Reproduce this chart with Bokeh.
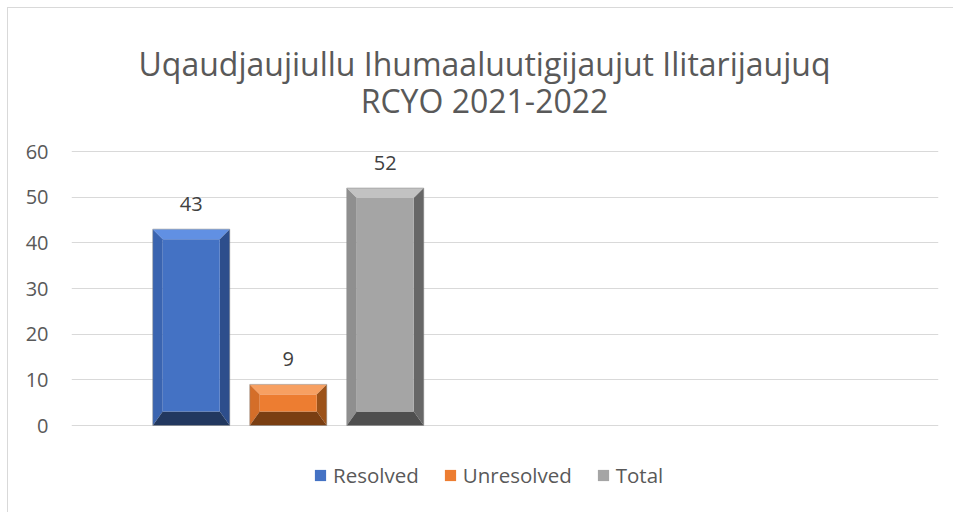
from bokeh.plotting import figure
from bokeh.models import Range1d, Label, Legend, LegendItem, ColumnDataSource
from bokeh.core.properties import value
from bokeh.embed import file_html
from bokeh.resources import INLINE

# ---- data ----
categories = ["Resolved", "Unresolved", "Total"]
counts = [43, 9, 52]
title_lines = ["Uqaudjaujiullu Ihumaaluutigijaujut Ilitarijaujuq", "RCYO 2021-2022"]
y_ticks = [0, 10, 20, 30, 40, 50, 60]

# ---- styles ----
FONT = "Open Sans"
main_c = ["#4472C4", "#ED7D31", "#A5A5A5"]
top_c = ["#6190E3", "#F7A062", "#C2C2C2"]
left_c = ["#3A64B0", "#D46E29", "#8F8F8F"]
right_c = ["#2D4E8C", "#9C5219", "#676767"]
bot_c = ["#22385F", "#7A3E12", "#4F4F4F"]

W, H = 946, 505
BL, BR = 63, 16
frame_w = W - BL - BR
y_top_px, y_zero_px = 143, 417   # pixel rows of the 60 and 0 gridlines
ymax = 60
ppu = (y_zero_px - y_top_px) / ymax
n_groups = 2  # second category group is empty in the source chart

p = figure(width=W, height=H, output_backend="svg", toolbar_location=None,
           x_range=Range1d(0, n_groups),
           y_range=Range1d(-(H - y_zero_px) / ppu, ymax + y_top_px / ppu),
           min_border_left=BL, min_border_right=BR, min_border_top=0,
           min_border_bottom=0)
p.styles = {"margin-left": "7px", "margin-top": "7px",
            "border-left": "1px solid #d9d9d9", "border-top": "1px solid #d9d9d9"}
p.outline_line_color = None
p.background_fill_color = "white"
p.border_fill_color = "white"

ux = n_groups / frame_w
uy = 1 / ppu
bar_w_px, gap_px = 77, 20
step = (bar_w_px + gap_px) * ux
bw = bar_w_px * ux
bx, bt_, bb_ = 10 * ux, 10 * uy, 14 * uy
centers = [0.5 + (i - 1) * step for i in range(len(categories))]

main_renderers = []
for i, (c, v) in enumerate(zip(centers, counts)):
    l, r, t = c - bw / 2, c + bw / 2, v
    p.patch([l, r, r - bx, l + bx], [t, t, t - bt_, t - bt_], fill_color=top_c[i], line_color=None)
    p.patch([l, l + bx, l + bx, l], [t, t - bt_, bb_, 0], fill_color=left_c[i], line_color=None)
    p.patch([r, r, r - bx, r - bx], [t, 0, bb_, t - bt_], fill_color=right_c[i], line_color=None)
    p.patch([l, l + bx, r - bx, r], [0, bb_, bb_, 0], fill_color=bot_c[i], line_color=None)
    rr = p.quad(left=[l + bx], right=[r - bx], bottom=[bb_], top=[t - bt_],
                fill_color=main_c[i], line_color=None)
    p.quad(left=[l], right=[r], bottom=[0], top=[t], fill_color=None,
           line_color="#8a8a8a", line_alpha=0.5, line_width=1)
    main_renderers.append(rr)

src = ColumnDataSource(dict(x=centers, y=counts, t=[str(v) for v in counts]))
p.text(x="x", y="y", text="t", source=src, text_align="center",
       text_baseline="alphabetic", y_offset=-25, text_font=value(FONT),
       text_font_size="20px", text_color="#404040")

p.xaxis.visible = False
p.yaxis.ticker = y_ticks
p.yaxis.axis_line_color = None
p.yaxis.major_tick_line_color = None
p.yaxis.minor_tick_line_color = None
p.yaxis.major_label_text_font = FONT
p.yaxis.major_label_text_font_size = "20px"
p.yaxis.major_label_text_color = "#595959"
p.yaxis.major_label_standoff = 17
p.xgrid.grid_line_color = None
p.ygrid.grid_line_color = "#d9d9d9"
p.ygrid.grid_line_width = 1

# title (screen units relative to the frame's bottom-left)
for k, line in enumerate(title_lines):
    p.add_layout(Label(x=413, y=450 - 37 * k, x_units="screen", y_units="screen",
                       text=line, text_align="center", text_baseline="alphabetic",
                       text_font=FONT, text_font_size="32px", text_color="#595959"))

legend = Legend(items=[LegendItem(label=cat, renderers=[rr]) for cat, rr in zip(categories, main_renderers)],
                orientation="horizontal", location=(242, 24),
                glyph_width=14, glyph_height=14, label_standoff=6, spacing=24,
                padding=0, margin=0, border_line_color=None, background_fill_alpha=0,
                label_text_font=FONT, label_text_font_size="20.5px", label_text_color="#595959")
p.add_layout(legend, "center")

open("out.html", "w").write(file_html(p, INLINE))
